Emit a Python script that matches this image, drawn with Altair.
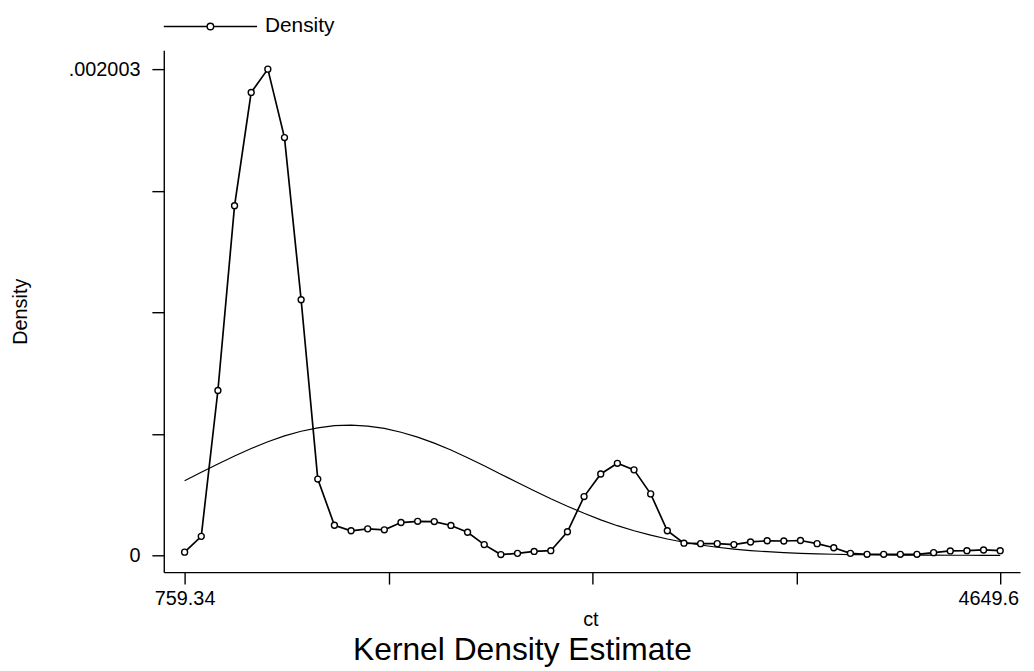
import altair as alt
import pandas as pd

# Evaluation grid of the kernel density estimate (ct)
grid_x = [759.34, 838.73, 918.13, 997.52, 1076.91, 1156.31, 1235.70, 1315.09, 1394.48, 1473.88,
          1553.27, 1632.66, 1712.06, 1791.45, 1870.84, 1950.24, 2029.63, 2109.02, 2188.42, 2267.81,
          2347.20, 2426.59, 2505.99, 2585.38, 2664.77, 2744.17, 2823.56, 2902.95, 2982.35, 3061.74,
          3141.13, 3220.52, 3299.92, 3379.31, 3458.70, 3538.10, 3617.49, 3696.88, 3776.28, 3855.67,
          3935.06, 4014.46, 4093.85, 4173.24, 4252.63, 4332.03, 4411.42, 4490.81, 4570.21, 4649.60]

# Kernel density (line with hollow circles)
density = [0.000013, 0.000078, 0.000679, 0.001440, 0.001907, 0.002003, 0.001721, 0.001053, 0.000314, 0.000124,
           0.000101, 0.000109, 0.000105, 0.000135, 0.000140, 0.000139, 0.000123, 0.000095, 0.000044, 0.000003,
           0.000008, 0.000016, 0.000019, 0.000097, 0.000242, 0.000335, 0.000379, 0.000352, 0.000253, 0.000101,
           0.000050, 0.000048, 0.000048, 0.000044, 0.000055, 0.000060, 0.000059, 0.000061, 0.000048, 0.000031,
           0.000008, 0.000004, 0.000004, 0.000004, 0.000004, 0.000011, 0.000018, 0.000019, 0.000022, 0.000019]

# Normal density overlay (plain line)
normal = [0.000307, 0.000342, 0.000376, 0.000409, 0.000440, 0.000468, 0.000492, 0.000511, 0.000525, 0.000534,
          0.000536, 0.000532, 0.000523, 0.000507, 0.000487, 0.000462, 0.000434, 0.000402, 0.000369, 0.000334,
          0.000300, 0.000266, 0.000233, 0.000202, 0.000173, 0.000146, 0.000122, 0.000101, 0.0000829, 0.0000671,
          0.0000537, 0.0000425, 0.0000332, 0.0000257, 0.0000196, 0.0000148, 0.0000111, 0.0000082, 0.0000060, 0.0000043,
          0.0000031, 0.0000022, 0.0000015, 0.0000010, 0.0000007, 0.0000005, 0.0000003, 0.0000002, 0.0000001, 0.0000001]

x_ticks = [759.34, 1731.905, 2704.47, 3677.035, 4649.6]
y_ticks = [0, 0.00050075, 0.0010015, 0.00150225, 0.002003]
series_name = ["Density"]

df = pd.DataFrame({"ct": grid_x, "density": density, "normal": normal, "series": series_name[0]})

FONT = "Liberation Sans"

x_scale = alt.Scale(domain=[659.95, 4744.25], nice=False, zero=False)
y_scale = alt.Scale(domain=[-0.00006949, 0.00208067], nice=False, zero=False)

x_axis = alt.Axis(
    values=x_ticks,
    labelExpr="datum.value < 800 ? '759.34' : (datum.value > 4600 ? '4649.6' : '')",
    grid=False, tickSize=12, labelPadding=5, labelFontSize=20, labelFont=FONT,
    labelColor="black", labelOverlap=False, labelFlush=False,
    labelOffset={"condition": {"test": "datum.value > 4600", "value": -12}, "value": 0},
    title="ct", titleFontSize=20, titleFont=FONT, titleFontWeight="normal", titleColor="black",
    titleX=430, titleY=54, titleBaseline="alphabetic", titleAlign="center",
    domainColor="black", tickColor="black", domainWidth=1.4, tickWidth=1.4,
)

y_axis = alt.Axis(
    values=y_ticks,
    labelExpr="datum.value == 0 ? '0' : (datum.value > 0.002 ? '.002003' : '')",
    grid=False, tickSize=12, labelPadding=12, labelFontSize=20, labelFont=FONT,
    labelColor="black", labelOverlap=False, labelFlush=False,
    title="Density", titleFontSize=20, titleFont=FONT, titleFontWeight="normal", titleColor="black",
    titleX=-144, titleY=263, titleAlign="center", titleBaseline="middle",
    domainColor="black", tickColor="black", domainWidth=1.4, tickWidth=1.4,
)

LEGEND_SYMBOL = ("M-1,0H-0.07M0.07,0H1"
                 "M0.07,0A0.07,0.07,0,1,1,-0.07,0A0.07,0.07,0,1,1,0.07,0Z")

base = alt.Chart(df)

normal_line = base.mark_line(strokeWidth=1.2, color="black").encode(
    x=alt.X("ct:Q", scale=x_scale, axis=x_axis),
    y=alt.Y("normal:Q", scale=y_scale, axis=y_axis),
)

density_line = base.mark_line(strokeWidth=1.7).encode(
    x=alt.X("ct:Q", scale=x_scale, axis=x_axis),
    y=alt.Y("density:Q", scale=y_scale, axis=y_axis),
    color=alt.Color(
        "series:N",
        scale=alt.Scale(domain=series_name, range=["black"]),
        legend=alt.Legend(
            title=None, orient="none", legendX=-1, legendY=-72, padding=0,
            symbolType=LEGEND_SYMBOL, symbolSize=8836, symbolStrokeWidth=1.4,
            symbolFillColor="white", symbolStrokeColor="black",
            labelFontSize=21, labelFont=FONT, labelColor="black", labelOffset=7,
        ),
    ),
)

density_points = base.mark_point(
    shape="circle", filled=True, fill="white", stroke="black",
    strokeWidth=1.4, size=36, opacity=1,
).encode(
    x=alt.X("ct:Q", scale=x_scale, axis=x_axis),
    y=alt.Y("density:Q", scale=y_scale, axis=y_axis),
)

chart = alt.layer(normal_line, density_line, density_points).properties(
    width=863,
    height=526,
    padding={"left": 157, "top": 40, "right": 6, "bottom": 97},
    autosize=alt.AutoSizeParams(type="none"),
    background="white",
    title=alt.TitleParams(
        "Kernel Density Estimate", orient="bottom", anchor="middle", frame="group",
        fontSize=32, font=FONT, fontWeight="normal", color="black", dx=-70, offset=6,
    ),
).configure_view(stroke=None)

chart.save("out.html", embed_options={"renderer": "svg", "actions": False})
